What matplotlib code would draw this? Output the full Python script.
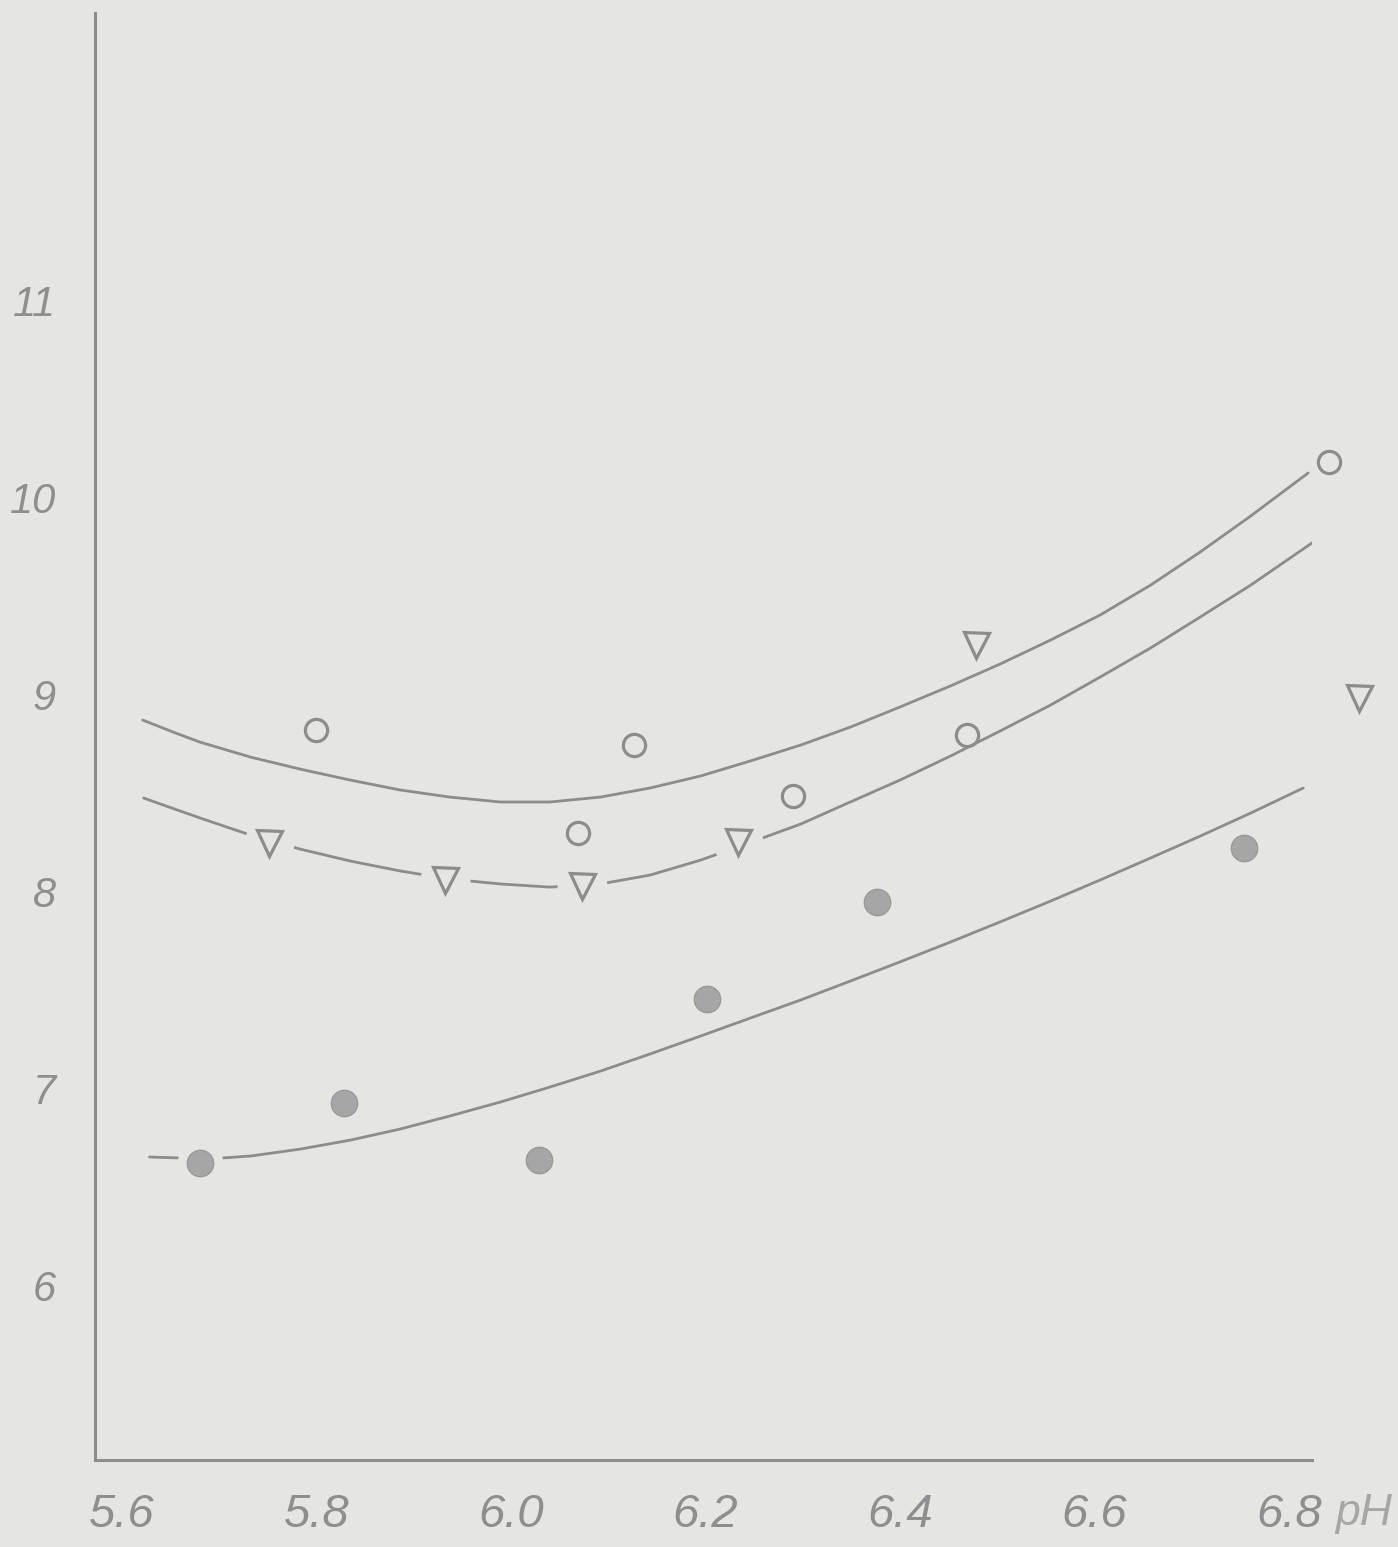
import matplotlib
matplotlib.use("Agg")
import matplotlib.pyplot as plt

# open circles
ph_open = [5.799, 6.069, 6.126, 6.290, 6.469, 6.841]
val_open = [8.817, 8.294, 8.741, 8.482, 8.792, 10.178]

# open triangles
ph_tri = [5.751, 5.932, 6.073, 6.234, 6.478, 6.872]
val_tri = [8.244, 8.056, 8.025, 8.249, 9.249, 8.980]

# filled circles
ph_full = [5.680, 5.828, 6.029, 6.202, 6.376, 6.754]
val_full = [6.619, 6.924, 6.635, 7.452, 7.944, 8.218]

# hand drawn curves
top_x = [5.621, 5.655, 5.680, 5.732, 5.783, 5.835, 5.886, 5.937, 5.989, 6.040, 6.092, 6.143, 6.195,
         6.246, 6.298, 6.349, 6.400, 6.452, 6.503, 6.555, 6.606, 6.658, 6.709, 6.761, 6.820]
top_y = [8.868, 8.802, 8.756, 8.680, 8.619, 8.563, 8.513, 8.477, 8.452, 8.452, 8.477, 8.523, 8.584,
         8.660, 8.741, 8.832, 8.934, 9.041, 9.152, 9.274, 9.401, 9.553, 9.721, 9.904, 10.122]

mid_x = [5.622, 5.680, 5.732, 5.783, 5.835, 5.886, 5.937, 5.989, 6.040, 6.092, 6.143, 6.195, 6.253,
         6.298, 6.349, 6.400, 6.452, 6.503, 6.555, 6.606, 6.658, 6.709, 6.761, 6.827]
mid_y = [8.472, 8.371, 8.284, 8.213, 8.152, 8.102, 8.061, 8.036, 8.020, 8.036, 8.081, 8.157, 8.259,
         8.340, 8.452, 8.563, 8.685, 8.812, 8.944, 9.086, 9.234, 9.391, 9.553, 9.777]

low_x = [5.628, 5.660, 5.703, 5.732, 5.783, 5.835, 5.886, 5.937, 5.989, 6.040, 6.092, 6.143, 6.195,
         6.246, 6.298, 6.349, 6.400, 6.452, 6.503, 6.555, 6.606, 6.658, 6.709, 6.761, 6.815]
low_y = [6.650, 6.645, 6.645, 6.655, 6.690, 6.736, 6.792, 6.858, 6.929, 7.005, 7.086, 7.173, 7.264,
         7.355, 7.447, 7.543, 7.640, 7.741, 7.843, 7.949, 8.056, 8.168, 8.279, 8.396, 8.523]

xticks = [5.6, 5.8, 6.0, 6.2, 6.4, 6.6, 6.8]
xlabels = ["5.6", "5.8", "6.0", "6.2", "6.4", "6.6", "6.8"]
yticks = [6, 7, 8, 9, 10, 11]
ylabels = ["6", "7", "8", "9", "10", "11"]

bg = "#e5e5e2"
ink = "#8c8c8c"
fnt = ["Liberation Sans", "DejaVu Sans"]

fig = plt.figure(figsize=(13.98, 15.47), dpi=100, facecolor=bg)
ax = fig.add_axes([95 / 1398, 87 / 1547, (1312 - 95) / 1398, (1460 - 13) / 1547])
ax.set_facecolor(bg)

for x, y in [(top_x, top_y), (mid_x, mid_y), (low_x, low_y)]:
    ax.plot(x, y, color=ink, lw=2.0, zorder=2, solid_capstyle="round", solid_joinstyle="round")

# gaps in the lines around the points
ax.plot(ph_tri, val_tri, "o", ms=35, color=bg, mec=bg, zorder=3, clip_on=False)
ax.plot(ph_full, val_full, "o", ms=32, color=bg, mec=bg, zorder=3, clip_on=False)

ax.plot(ph_open, val_open, "o", ms=16, mfc="none", mec=ink, mew=2.3, zorder=4, clip_on=False)
ax.plot(ph_tri, val_tri, "v", ms=18, mfc="none", mec=ink, mew=2.3, zorder=4, clip_on=False)
ax.plot(ph_full, val_full, "o", ms=19, color="#a6a6a6", mec="#9a9a9a", mew=1, zorder=4, clip_on=False)

ax.set_xlim(5.572, 6.824)
ax.set_ylim(5.112, 12.457)

ax.spines["top"].set_visible(False)
ax.spines["right"].set_visible(False)
for s in ["left", "bottom"]:
    ax.spines[s].set_color(ink)
    ax.spines[s].set_linewidth(2.2)

ax.set_xticks(xticks)
ax.set_xticklabels(xlabels, fontsize=34, style="italic", color="#8e8e8e", family=fnt)
ax.set_yticks(yticks)
ax.set_yticklabels(ylabels, fontsize=30, style="italic", color="#8e8e8e", family=fnt)
ax.tick_params(axis="x", length=0, pad=24)
ax.tick_params(axis="y", length=0, pad=28)

ax.annotate("pH", xy=(6.877, 0), xycoords=ax.get_xaxis_transform(), xytext=(0, -24),
            textcoords="offset points", fontsize=32, style="italic", color="#a6a6a6",
            family=fnt, ha="center", va="top", annotation_clip=False)

fig.savefig("out.png", dpi=100, facecolor=bg)
